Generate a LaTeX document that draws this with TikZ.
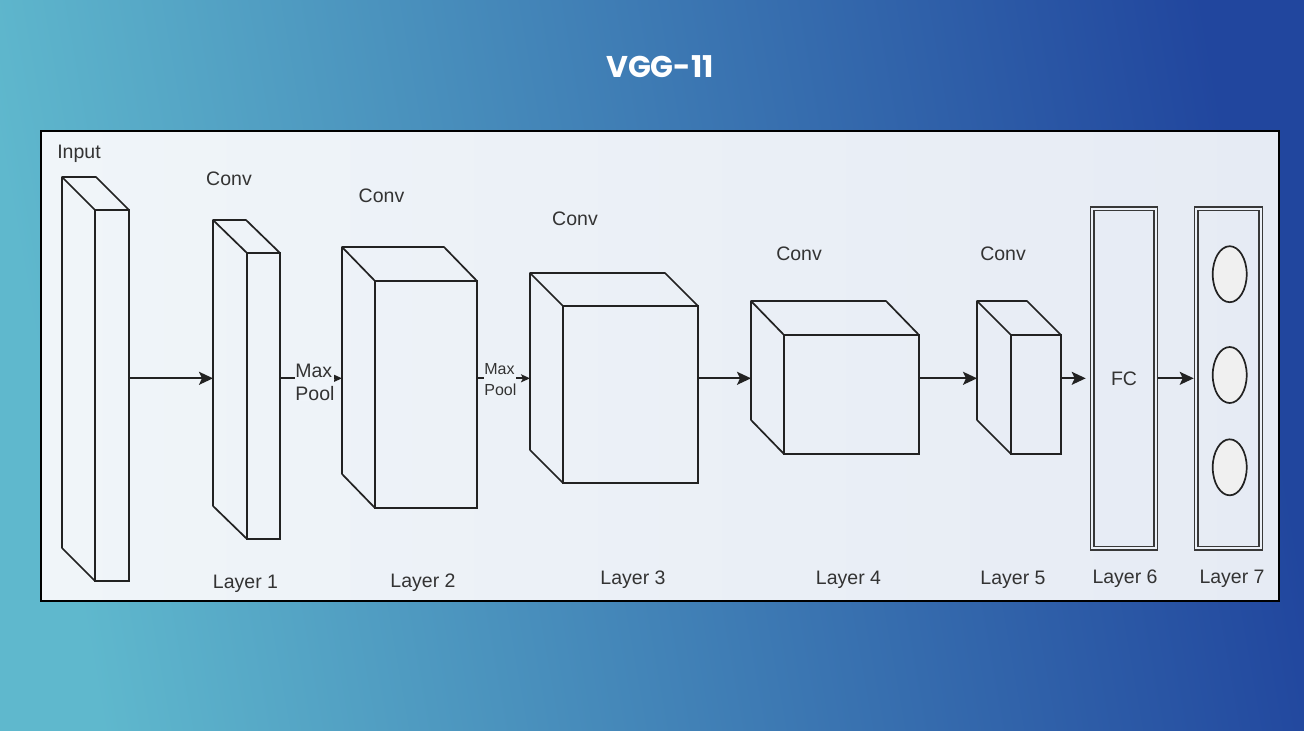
\documentclass[tikz,border=0pt]{standalone}
\usepackage{fontspec}
\setmainfont{Liberation Sans}
\newfontfamily\titlefont{Poppins}
\usetikzlibrary{arrows.meta,fit,shapes.geometric}
\definecolor{bgL}{HTML}{5FB8CD}
\definecolor{bgM}{HTML}{3C82B7}
\definecolor{bgR}{HTML}{21469E}
\definecolor{frL}{HTML}{F0F5F9}
\definecolor{frR}{HTML}{E6EBF4}
\definecolor{ink}{HTML}{222222}
\definecolor{txt}{HTML}{333333}
\newcommand\cuboid[7]{%
  \node[face, fit={(#2,#3) (#4,#5)}] (#1) {};
  \node[ghost, fit={(#2-#6,#3-#7) (#4-#6,#5-#7)}] (#1b) {};
  \draw[edge] (#1b.south west) -- (#1b.north west) -- (#1b.north east) -- (#1.north east)
     (#1b.north west) -- (#1.north west)
     (#1b.south west) -- (#1.south west);
}
\begin{document}
\begin{tikzpicture}[x=0.5pt,y=-0.5pt,
  face/.style={draw=ink, line width=0.85pt, inner sep=0pt, outer sep=0pt},
  ghost/.style={inner sep=0pt, outer sep=0pt},
  edge/.style={draw=ink, line width=0.85pt, line join=round},
  arr/.style={draw=ink, line width=0.85pt, -{Stealth[length=7pt,width=6.5pt,inset=1.5pt]}},
  arrs/.style={draw=ink, line width=0.85pt, -{Stealth[length=4.5pt,width=4pt,inset=1pt]}},
  lbl/.style={text=txt, font=\fontsize{9.75}{12}\selectfont, inner sep=0pt, anchor=base},
  pool/.style={text=txt, inner sep=0pt, anchor=north west, align=left},
  fcbox/.style={draw=ink!90, line width=0.8pt, double=frL!55!frR, double distance=0.9pt, inner sep=0pt, outer sep=1.25pt},
  neuron/.style={ellipse, draw=ink, line width=0.85pt, fill=gray!12, minimum width=17pt, minimum height=28pt, inner sep=0pt}
]
\useasboundingbox (0,0) rectangle (1304,730);
\shade[left color=bgL, middle color=bgM, right color=bgR, shading angle=100] (0,0) rectangle (1304,730);
\node[text=white, font=\titlefont\bfseries\fontsize{15}{18}\selectfont, inner sep=0pt, anchor=base] (title) at (660,77) {VGG-11};
\node[fit={(40.5,131) (1279,601)}, draw=black, line width=1pt, left color=frL, right color=frR, inner sep=0pt, outer sep=0pt] (frame) {};
\coordinate (ax) at (0,378.3);
% layers
\cuboid{inp}{95}{210}{129}{581}{33}{33}
\cuboid{l1}{247}{253}{280}{539}{34}{33}
\cuboid{l2}{375}{281}{477}{508}{33}{34}
\cuboid{l3}{563}{306}{698}{483}{33}{33}
\cuboid{l4}{784}{335}{919}{454}{33}{34}
\cuboid{l5}{1011}{335}{1061}{454}{34}{34}
\node[fcbox, fit={(1092.2,208.7) (1155.8,548.3)}] (l6) {};
\node[fcbox, fit={(1196.2,208.7) (1260.8,548.3)}] (l7) {};
\node[lbl, anchor=center] (fc) at (l6.center) {FC};
\node[neuron] (n1) at (1229.7,274.2) {};
\node[neuron] (n2) at (1229.7,375) {};
\node[neuron] (n3) at (1229.7,467.3) {};
% connectors
\draw[arr] (inp.east |- ax) -- (l1b.west |- ax);
\draw[arrs] (l1.east |- ax) -- (l2b.west |- ax);
\node[pool, fill=frL!95!frR, font=\fontsize{9.75}{11.8}\selectfont] (mp1) at (295,363.3) {Max\\Pool};
\draw[arrs] (l2.east |- ax) -- (l3b.west |- ax);
\node[pool, fill=frL!85!frR, font=\fontsize{8}{10.5}\selectfont] (mp2) at (484,363) {Max\\Pool};
\draw[arr] (l3.east |- ax) -- (l4b.west |- ax);
\draw[arr] (l4.east |- ax) -- (l5b.west |- ax);
\draw[arr, shorten >=2pt] (l5.east |- ax) -- (l6.west |- ax);
\draw[arr] (l6.east |- ax) -- (l7.west |- ax);
% labels
\node[lbl] (tin) at (79,158) {Input};
\node[lbl] (c1) at (229,185) {Conv};
\node[lbl] (c2) at (381.5,202.7) {Conv};
\node[lbl] (c3) at (575,225.7) {Conv};
\node[lbl] (c4) at (799,260) {Conv};
\node[lbl] (c5) at (1003,260) {Conv};
\node[lbl] (t1) at (245.5,588) {Layer 1};
\node[lbl] (t2) at (423,587) {Layer 2};
\node[lbl] (t3) at (633,584) {Layer 3};
\node[lbl] (t4) at (848.5,584) {Layer 4};
\node[lbl] (t5) at (1013,584) {Layer 5};
\node[lbl] (t6) at (1125,583.5) {Layer 6};
\node[lbl] (t7) at (1232,583.5) {Layer 7};
\end{tikzpicture}
\end{document}
